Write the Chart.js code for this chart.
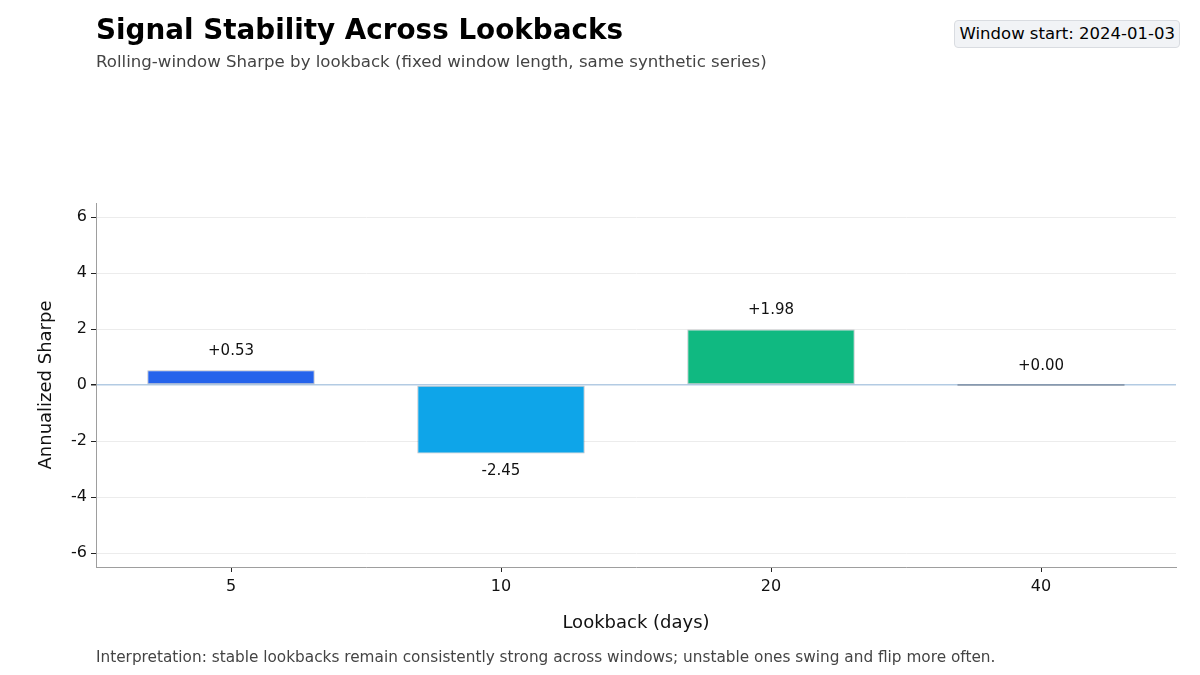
<!DOCTYPE html>
<html>
<head>
<meta charset="utf-8">
<script src="https://cdn.jsdelivr.net/npm/chart.js@4"></script>
<style>
  body { margin: 0; background: #fff; font-family: "DejaVu Sans", sans-serif; }
  #wrap { position: relative; width: 1200px; height: 675px; overflow: hidden; }
  #myChart { position: absolute; left: 0; top: 0; }
  .txt { position: absolute; white-space: nowrap; }
  #title { left: 96px; top: 13px; font-size: 27.8px; font-weight: bold; color: #000; }
  #subtitle { left: 96px; top: 52px; font-size: 16.6px; color: #444; }
  #badge { right: 20px; top: 20px; font-size: 16.5px; color: #000; background: #f1f3f6;
           border: 1px solid #d9dce1; border-radius: 4px; padding: 3px 4px 4px 5px; }
  #footer { left: 96px; top: 648px; font-size: 15.3px; color: #444; }
</style>
</head>
<body>
<div id="wrap">
  <canvas id="myChart" width="1200" height="675"></canvas>
  <div class="txt" id="title">Signal Stability Across Lookbacks</div>
  <div class="txt" id="subtitle">Rolling-window Sharpe by lookback (fixed window length, same synthetic series)</div>
  <div class="txt" id="badge">Window start: 2024-01-03</div>
  <div class="txt" id="footer">Interpretation: stable lookbacks remain consistently strong across windows; unstable ones swing and flip more often.</div>
</div>
<script>
// values
var lookbacks = ["5", "10", "20", "40"];
var sharpe = [0.53, -2.45, 1.98, 0.00];
var yTicks = [-6, -4, -2, 0, 2, 4, 6];
var yMin = -6.5, yMax = 6.5;

var barColors = ["#2563eb", "#0ea5e9", "#10b981", "#94a3b8"];

var ctx = document.getElementById('myChart').getContext('2d');

// "+0.53" style labels over / under each bar
var valueLabels = {
  id: "valueLabels",
  afterDatasetsDraw(chart) {
    let c = chart.ctx;
    let meta = chart.getDatasetMeta(0);
    let zeroY = chart.scales.y.getPixelForValue(0);
    c.save();
    c.font = "15px 'DejaVu Sans'";
    c.fillStyle = "#111";
    c.textAlign = "center";
    c.textBaseline = "middle";
    meta.data.forEach((bar, i) => {
      let v = sharpe[i];
      let txt = (v >= 0 ? "+" : "") + v.toFixed(2);
      let top = v >= 0 ? chart.scales.y.getPixelForValue(v) : zeroY;
      let y = v >= 0 ? top - 19 : chart.scales.y.getPixelForValue(v) + 18;
      c.fillText(txt, bar.x, y);
    });
    c.restore();
  }
};

var myChart = new Chart(ctx, {
  type: 'bar',
  data: {
    labels: lookbacks,
    datasets: [{
      data: sharpe,
      backgroundColor: barColors,
      borderColor: "rgba(30,41,59,0.3)",
      borderWidth: 1,
      borderSkipped: false,
      minBarLength: 2,
      barPercentage: 0.62,
      categoryPercentage: 1.0
    }]
  },
  plugins: [valueLabels],
  options: {
    responsive: false,
    animation: false,
    devicePixelRatio: 1,
    layout: { padding: { left: 0, right: 24, top: 203, bottom: 40 } },
    plugins: {
      legend: { display: false },
      tooltip: { enabled: false }
    },
    scales: {
      x: {
        afterFit: (scale) => { scale.height = 68; },
        border: { color: "#9e9e9e", width: 1 },
        grid: { offset: false, drawOnChartArea: false, drawTicks: true, tickLength: 5, tickColor: "#222" },
        ticks: { color: "#111", font: { family: "DejaVu Sans", size: 16 }, padding: 5 },
        title: { display: true, text: "Lookback (days)", color: "#111",
                 font: { family: "DejaVu Sans", size: 18 }, padding: { top: 4, bottom: 1 } }
      },
      y: {
        min: yMin,
        max: yMax,
        afterFit: (scale) => { scale.width = 96; },
        afterBuildTicks: (scale) => { scale.ticks = yTicks.map(v => ({ value: v })); },
        border: { color: "#9e9e9e", width: 1 },
        grid: {
          color: (c) => c.tick && c.tick.value === 0 ? "#b3cbe3" : "#ececec",
          lineWidth: (c) => c.tick && c.tick.value === 0 ? 1.5 : 1,
          tickLength: 5,
          tickColor: "#222"
        },
        ticks: { color: "#111", font: { family: "DejaVu Sans", size: 16 }, padding: 4 },
        title: { display: true, text: "Annualized Sharpe", color: "#111",
                 font: { family: "DejaVu Sans", size: 18 }, padding: { top: 36, bottom: 4 } }
      }
    }
  }
});
</script>
</body>
</html>
